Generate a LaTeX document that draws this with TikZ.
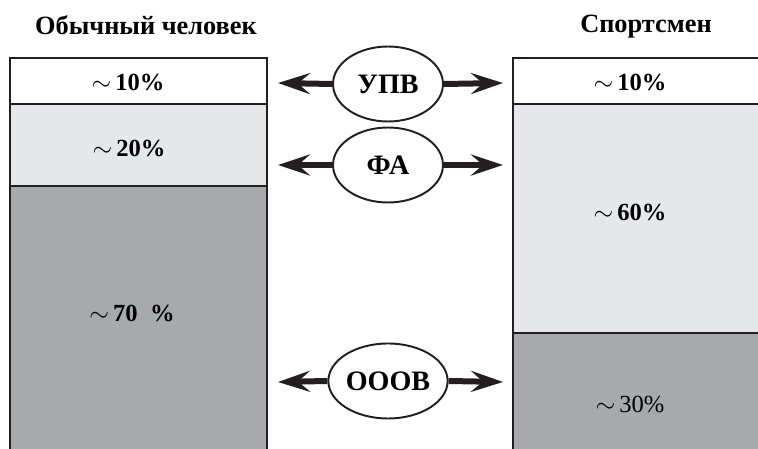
\documentclass[tikz,border=0pt]{standalone}
\usepackage{fontspec}
\setmainfont{Liberation Serif}
\usetikzlibrary{positioning, arrows.meta, shapes.geometric}
\definecolor{lightfill}{HTML}{E6E7E8}
\definecolor{darkfill}{HTML}{A7A9AC}
\definecolor{edgegray}{HTML}{231F20}

\begin{document}
\begin{tikzpicture}[
    x=0.02cm, y=0.02cm,
    every node/.style={font=\bfseries},
    title node/.style={font=\bfseries\fontsize{15}{17}\selectfont},
    pct/.style={font=\bfseries\fontsize{14}{16}\selectfont},
    layer/.style={draw=edgegray, line width=1.6pt},
    oval/.style={ellipse, draw=edgegray, line width=1.1pt, fill=white,
        minimum width=2.2cm, minimum height=1.5cm, inner sep=0pt,
        font=\bfseries\fontsize{16}{18}\selectfont},
    bigarrow/.style={-{Stealth[length=0.64cm, width=0.42cm, inset=0.24cm]},
        line width=0.12cm, color=edgegray},
]
\useasboundingbox (0,0) rectangle (758,449);
\clip (0,0) rectangle (758,449);

% === Titles ===
\node[title node] (ordtitle) at (146,424) {Обычный человек};
\node[title node] (athtitle) at (646,422) {Спортсмен};

% === Left bar ===
\draw[layer, fill=white]     (10,391) rectangle (267,345);
\draw[layer, fill=lightfill] (10,345) rectangle (267,263);
\draw[layer, fill=darkfill]  (10,263) rectangle (267,-10);

% === Right bar ===
\draw[layer, fill=white]     (513,391) rectangle (770,345);
\draw[layer, fill=lightfill] (513,345) rectangle (770,116);
\draw[layer, fill=darkfill]  (513,116) rectangle (770,-10);

% === Percent labels ===
\node[pct] (ord10) at (128,367) {$\sim$\,10\%};
\node[pct] (ord20) at (129,301) {$\sim$\,20\%};
\node[pct] (ord70) at (132,136) {$\sim$\,70\hspace{0.25cm}\%};
\node[pct] (ath10) at (630,367) {$\sim$\,10\%};
\node[pct] (ath60) at (630,237) {$\sim$\,60\%};
\node[pct, font=\fontsize{14}{16}\selectfont] (ath30) at (630,45) {$\sim$\,30\%};

% === Ovals ===
\node[oval] (upv)  at (388,365) {УПВ};
\node[oval] (fa)   at (388,284) {ФА};
\node[oval] (ooov) at (388,68)  {ОООВ};

% === Arrow ends ===
\coordinate (upvL)  at (278,366);
\coordinate (upvR)  at (503,366);
\coordinate (faL)   at (278,284);
\coordinate (faR)   at (503,284);
\coordinate (ooovL) at (278,67);
\coordinate (ooovR) at (503,67);

% ===== ARROWS =====
\draw[bigarrow] (upv.west)  -- (upvL);
\draw[bigarrow] (upv.east)  -- (upvR);
\draw[bigarrow] (fa.west)   -- (faL);
\draw[bigarrow] (fa.east)   -- (faR);
\draw[bigarrow] (ooov.west) -- (ooovL);
\draw[bigarrow] (ooov.east) -- (ooovR);

\end{tikzpicture}
\end{document}
